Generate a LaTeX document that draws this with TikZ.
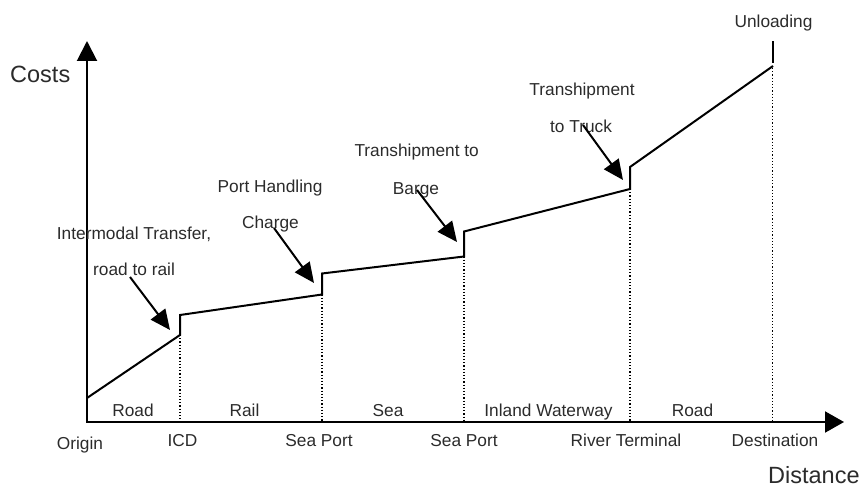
\documentclass[tikz,border=0pt]{standalone}
\usepackage{fontspec}
\setmainfont{Liberation Sans}
\usetikzlibrary{arrows.meta}
\definecolor{txt}{HTML}{2B2B2B}
\begin{document}
\begin{tikzpicture}[x=1pt,y=-1pt,
  lbl/.style={font=\fontsize{17.3}{20}\selectfont, text=txt, inner sep=0pt, anchor=base},
  big/.style={font=\fontsize{23.5}{28}\selectfont, text=txt, inner sep=0pt, anchor=base west},
  axis/.style={line width=2pt, line join=miter,
    {Triangle[length=20pt,width=20pt]}-{Triangle[length=19pt,width=21pt]}},
  cost/.style={line width=2pt, line join=miter},
  guide/.style={line width=1.2pt, dash pattern=on 1.2pt off 2pt},
  callout/.style={line width=2pt, -{Triangle[length=20pt,width=18pt]}}]
\useasboundingbox (0,0) rectangle (866,489);

% axes
\coordinate (O) at (87,422);
\coordinate (ytop) at (87,41);
\coordinate (xend) at (844,422);
\draw[axis] (ytop) -- (O) -- (xend);
\node[big] (costs) at (10,83) {Costs};
\node[big] (dist) at (768,483) {Distance};

% cost curve break points
\coordinate (c0) at (87,398);
\coordinate (c1a) at (180,335);   \coordinate (c1b) at (180,315);
\coordinate (c2a) at (322,294.5); \coordinate (c2b) at (322,273.5);
\coordinate (c3a) at (464,256.5); \coordinate (c3b) at (464,231.5);
\coordinate (c4a) at (630,189);   \coordinate (c4b) at (630,167);
\coordinate (c5) at (773,66);
\coordinate (u0) at (772.5,63);   \coordinate (u1) at (772.5,41);

% dotted guides down to the distance axis
\coordinate (g1) at (180,422);
\coordinate (g2) at (322,422);
\coordinate (g3) at (464,422);
\coordinate (g4) at (630,422);
\coordinate (g5) at (772.5,422);
\draw[guide] (c1a) -- (g1);
\draw[guide] (c2a) -- (g2);
\draw[guide] (c3a) -- (g3);
\draw[guide] (c4a) -- (g4);
\draw[guide] (772.5,68) -- (g5);

% cumulative cost line
\draw[cost] (c0) -- (c1a) -- (c1b) -- (c2a) -- (c2b) -- (c3a) -- (c3b)
  -- (c4a) -- (c4b) -- (c5);
\draw[cost] (u0) -- (u1);

% leg labels above the axis
\node[lbl] (l1) at (133,416) {Road};
\node[lbl] (l2) at (244.5,416) {Rail};
\node[lbl] (l3) at (388,416) {Sea};
\node[lbl] (l4) at (548.5,416) {Inland Waterway};
\node[lbl] (l5) at (692.5,416) {Road};

% node labels below the axis
\node[lbl] (n0) at (80,449) {Origin};
\node[lbl] (n1) at (182.5,446.5) {ICD};
\node[lbl] (n2) at (319,446.5) {Sea Port};
\node[lbl] (n3) at (464,446.5) {Sea Port};
\node[lbl] (n4) at (626,446.5) {River Terminal};
\node[lbl] (n5) at (775,446.5) {Destination};

% transfer cost labels
\node[lbl] (a1) at (134,239.3) {Intermodal Transfer,};
\node[lbl] (a2) at (134,275) {road to rail};
\node[lbl] (b1) at (270,192.3) {Port Handling};
\node[lbl] (b2) at (270.5,228.3) {Charge};
\node[lbl] (d1) at (416.7,157) {Transhipment to};
\node[lbl] (d2) at (416,194) {Barge};
\node[lbl] (e1) at (582,96) {Transhipment};
\node[lbl] (e2) at (581,132.5) {to Truck};
\node[lbl] (f1) at (773.5,28) {Unloading};

% callout arrows
\coordinate (s1) at (130,277); \coordinate (h1) at (170,330);
\coordinate (s2) at (274,228); \coordinate (h2) at (314,283);
\coordinate (s3) at (417,190); \coordinate (h3) at (457,242);
\coordinate (s4) at (583,125); \coordinate (h4) at (623,180);
\draw[callout] (s1) -- (h1);
\draw[callout] (s2) -- (h2);
\draw[callout] (s3) -- (h3);
\draw[callout] (s4) -- (h4);
\end{tikzpicture}
\end{document}
